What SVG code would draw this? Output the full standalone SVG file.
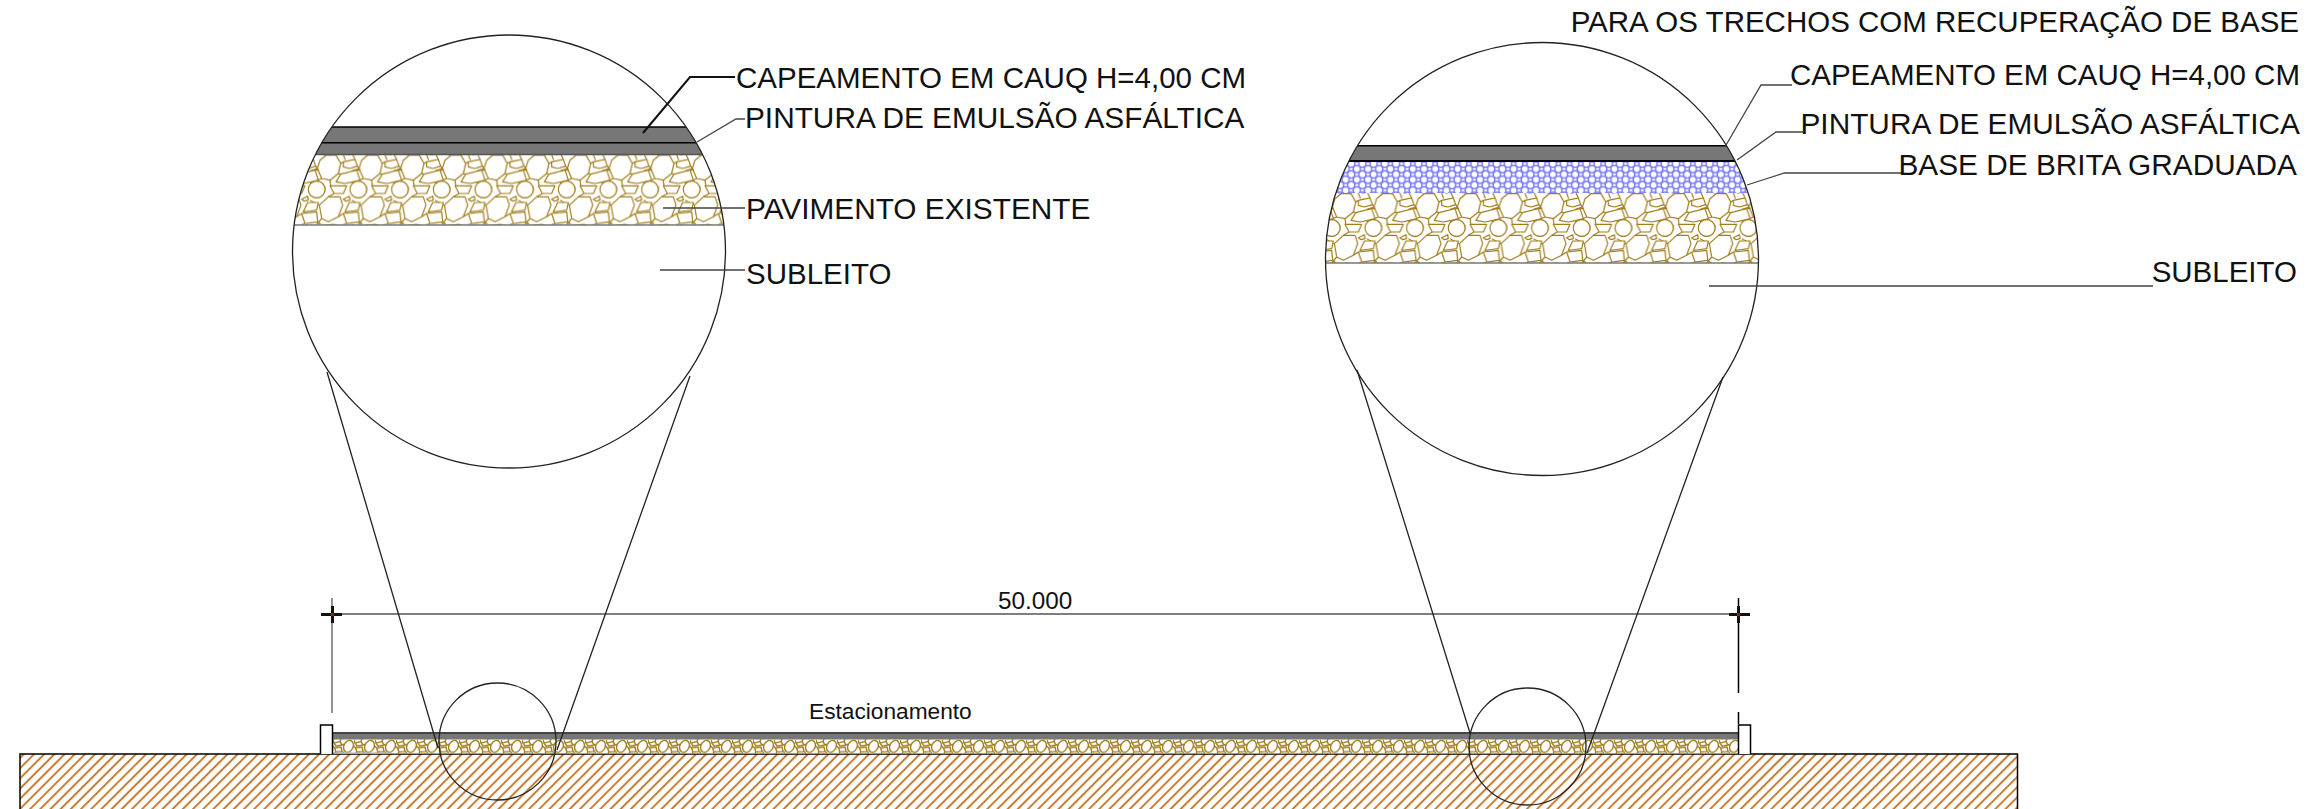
<svg xmlns="http://www.w3.org/2000/svg" xmlns:xlink="http://www.w3.org/1999/xlink" width="2321" height="809" viewBox="0 0 2321 809">
<style>
text{font-family:"Liberation Sans",Arial,sans-serif;font-size:29.5px;fill:#111}
.o{fill:none;stroke:#222;stroke-width:1.3}
.l{fill:none;stroke:#444;stroke-width:1.3}
.k{fill:none;stroke:#000;stroke-width:1.5}
.g{fill:none;stroke:#777;stroke-width:1.6}
.dark{fill:#777}
.w{font-size:29.8px}
</style>
<defs>
<g id="st" fill="#fff" stroke="#a07e1c" stroke-width="3.6" stroke-linejoin="round">
<path d="M30 30L48 15H78L92 40L85 70L60 90L35 85L22 55Z"/>
<path d="M100 35L135 28L142 48L118 55L100 50Z"/>
<path d="M92 72L140 60L150 90L105 100L78 95Z"/>
<circle cx="20" cy="118" r="25"/><circle cx="145" cy="118" r="25"/>
<path d="M60 107H110L100 130H72Z"/>
<path d="M28 165L55 140H90L98 165L85 200L55 215L35 205Z"/>
<path d="M100 147L118 138L120 150L108 153Z"/>
<path d="M118 157H150L145 180L105 185Z"/>
<path d="M100 190L145 185L148 215L110 220Z"/>
<path d="M0 62L22 55M92 40L100 35M100 13L106 30M128 13L135 28M142 48L150 60L140 60M85 70L92 72M60 90L62 107M35 85L0 100M72 130L55 140M28 165L0 150M85 200L100 190M35 205L20 223M110 220L100 223M148 215L158 223" fill="none"/>
<path d="M40 13H52M66 13H80M110 13H120M18 223H30M62 223H75" fill="none"/>
</g>
<pattern id="gravL" patternUnits="userSpaceOnUse" width="41.67" height="70" patternTransform="translate(310 154.5)">
<g transform="scale(.3333) translate(0 -13)"><use xlink:href="#st"/><use xlink:href="#st" x="-125"/></g></pattern>
<pattern id="gravR" patternUnits="userSpaceOnUse" width="41.67" height="70" patternTransform="translate(1325 193)">
<g transform="scale(.3333) translate(0 -13)"><use xlink:href="#st"/><use xlink:href="#st" x="-125"/></g></pattern>
<pattern id="gravS" patternUnits="userSpaceOnUse" width="21" height="14.5" patternTransform="translate(333 739)">
<rect width="21" height="14.5" fill="#fff"/>
<g fill="none" stroke="#a07e1c" stroke-width="1.4">
<ellipse cx="15.5" cy="7.3" rx="4.6" ry="6.2" transform="rotate(25 15.5 7.3)" fill="#fff"/>
<path d="M1 4L7 2.500L9 6L3 7ZM1.500 9L8 8L9 12.500L3 13ZM0 1L1 4M8 0L7 2.500M9 6L11.500 5M9 12.500L11 14M3 13L2 14.500M1.500 9L0 7M21 5L21 9"/>
</g></pattern>
<pattern id="hex" patternUnits="userSpaceOnUse" width="11.2" height="10.7" patternTransform="translate(1340 161)">
<rect width="11.2" height="10.7" fill="#fff"/>
<g fill="#fff" stroke="#7c7cf6" stroke-width="1.5">
<circle cx="0" cy="2.700" r="3.600"/><circle cx="11.200" cy="2.700" r="3.600"/>
<circle cx="5.600" cy="8" r="3.600"/>
<circle cx="5.600" cy="-2.700" r="3.600"/>
<circle cx="0" cy="13.400" r="3.600"/><circle cx="11.200" cy="13.400" r="3.600"/>
</g></pattern>
<pattern id="hatch" patternUnits="userSpaceOnUse" width="7.2" height="7.2" patternTransform="translate(20 754) rotate(-45)">
<rect width="7.2" height="7.2" fill="#fff"/><rect width="7.2" height="1.8" y="2" fill="#bf6f1f"/>
</pattern>
<clipPath id="cL"><circle cx="509" cy="251.5" r="216.5"/></clipPath>
<clipPath id="cR"><circle cx="1542" cy="259" r="216.5"/></clipPath>
</defs>
<rect width="2321" height="809" fill="#fff"/>

<g id="ground">
<rect x="20" y="754" width="1997.5" height="60" class="k" style="fill:url(#hatch)"/>
</g>
<g id="road">
<rect x="333" y="739" width="1405" height="14.5" fill="url(#gravS)"/>
<rect x="333" y="732" width="1405" height="7.5" class="dark"/>
<rect x="333" y="732" width="1405" height="2" fill="#444"/>
<rect x="333" y="752.500" width="58" height="1.500" fill="#aaa"/>
<path d="M320.500 754V725H332.500V754" class="k" style="fill:#fff"/>
<path d="M1738.500 754V725H1750.500V754" class="k" style="fill:#fff"/>
<text x="809" y="719" style="font-size:22.7px">Estacionamento</text>
</g>
<g id="dimension">
<path d="M332 614H1738" class="g" style="stroke:#555;stroke-width:1.5"/>
<path d="M332 598V713" class="g"/>
<path d="M1738.500 598V693M1738.500 712V724" class="k"/>
<path d="M321 614.500H342M1729 614.500H1750M332.500 606V623M1738.500 606V623" fill="none" stroke="#111" stroke-width="3"/>
<rect x="331" y="613" width="3" height="3" fill="#d00"/><rect x="1737" y="613" width="3" height="3" fill="#d00"/>
<text x="998" y="609" style="font-size:24.300px">50.000</text>
</g>

<g id="detail-left">
<g clip-path="url(#cL)">
<rect x="290" y="154.500" width="440" height="70.500" fill="url(#gravL)"/>
<rect x="290" y="127" width="440" height="27.500" class="dark"/>
<path d="M290 127H730M290 142.700H730" class="k"/>
<path d="M290 154.500H730" class="g" style="stroke:#555"/>
<path d="M290 225H730" class="g"/>
</g>
<circle cx="509" cy="251.500" r="216.500" class="o"/>
</g>
<g id="detail-right">
<g clip-path="url(#cR)">
<rect x="1320" y="193" width="445" height="70" fill="url(#gravR)"/>
<rect x="1320" y="161" width="445" height="32" fill="url(#hex)"/>
<rect x="1320" y="145.700" width="445" height="15.300" class="dark"/>
<path d="M1320 145.700H1765" class="k"/>
<path d="M1320 161H1765" fill="none" stroke="#000" stroke-width="2"/>
<path d="M1320 263H1765" class="g"/>
</g>
<circle cx="1542" cy="259" r="216.500" class="o"/>
</g>
<g id="lens-left"><circle cx="497.500" cy="741.500" r="58.500" class="o"/></g>
<g id="lens-right"><circle cx="1527.500" cy="746.500" r="58.500" class="o"/></g>

<g id="connectors">
<path d="M327 372L438 748M690 376L557 750" class="o"/>
<path d="M1357 370L1470 733M1723 377L1587 753" class="o"/>
<path d="M643 133L690 77H735" fill="none" stroke="#111" stroke-width="2"/>
<path d="M697 142L736 119H745M663 208H745M660 270H745" class="l"/>
<path d="M1725.500 146L1761 85H1792M1737 160L1776 132H1803M1747 185L1784.500 173H1902M1709 286H2153" class="l"/>
</g>

<g id="labels-left">
<text x="736" y="88">CAPEAMENTO EM CAUQ H=4,00 CM</text>
<text x="745" y="128" class="w">PINTURA DE EMULSÃO ASFÁLTICA</text>
<text x="746" y="219" class="w">PAVIMENTO EXISTENTE</text>
<text x="746" y="284">SUBLEITO</text>
</g>
<g id="labels-right">
<text x="2299" y="32" text-anchor="end">PARA OS TRECHOS COM RECUPERAÇÃO DE BASE</text>
<text x="2300" y="85" text-anchor="end">CAPEAMENTO EM CAUQ H=4,00 CM</text>
<text x="2300" y="134" text-anchor="end" class="w">PINTURA DE EMULSÃO ASFÁLTICA</text>
<text x="2297" y="175" text-anchor="end" class="w">BASE DE BRITA GRADUADA</text>
<text x="2297" y="282" text-anchor="end">SUBLEITO</text>
</g>
</svg>
